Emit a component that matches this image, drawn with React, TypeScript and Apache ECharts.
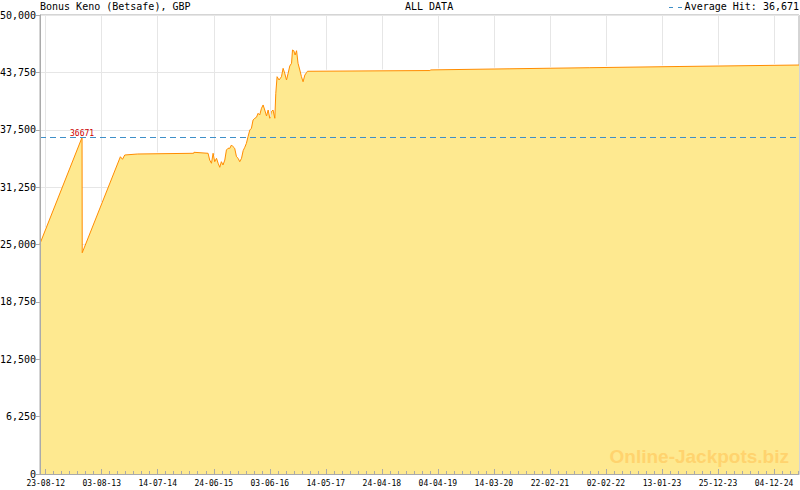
import React, { useEffect, useRef } from "react";
import * as echarts from "echarts";

const MONO = '"DejaVu Sans Mono", monospace';

// x positions are days counted from 23-08-12
const tickLabels = [
  "23-08-12", "03-08-13", "14-07-14", "24-06-15", "03-06-16", "14-05-17", "24-04-18",
  "04-04-19", "14-03-20", "22-02-21", "02-02-22", "13-01-23", "25-12-23", "04-12-24",
];
const TICK_STEP_DAYS = 345;
const MINOR_PER_MAJOR = 7;

const dayOffsets = [
  -35, 224, 225, 460, 473, 487, 567, 912, 913, 1000, 1010, 1021, 1031, 1041, 1052, 1062,
  1072, 1082, 1092, 1103, 1113, 1123, 1134, 1144, 1154, 1164, 1175, 1185, 1195, 1206, 1216,
  1226, 1236, 1246, 1257, 1267, 1277, 1288, 1298, 1308, 1318, 1329, 1339, 1349, 1360, 1370,
  1380, 1390, 1400, 1411, 1417, 1425, 1437, 1452, 1462, 1472, 1483, 1493, 1503, 1514, 1520,
  1528, 1536, 1545, 1554, 1565, 1575, 1585, 1596, 1606, 1612, 2366, 2372, 2859, 3351, 3906,
  4639,
];
const jackpotValues = [
  25100, 36671, 24100, 34560, 34280, 34750, 34860, 34935, 35045, 34935, 34200, 33850, 34935,
  34020, 34390, 33850, 33410, 34020, 33660, 34200, 35290, 35480, 35480, 35840, 35650, 35480,
  34560, 34390, 34020, 34390, 35220, 35590, 36020, 36740, 37470, 37660, 38560, 38750, 38860,
  39290, 39110, 39840, 40200, 39650, 39000, 39650, 38750, 39480, 39650, 38750, 41470, 43280,
  42920, 43280, 44190, 43650, 42920, 43650, 44440, 44740, 46190, 46110, 45640, 46110, 44740,
  44010, 43280, 42730, 43460, 43710, 43870, 43950, 44020, 44140, 44260, 44390, 44550,
];

const AVERAGE_HIT = 36671;
const HIT_DAY = 224;
const Y_MAX = 50000;
const Y_STEP = 6250;

const TITLE_LEFT = "Bonus Keno (Betsafe), GBP";
const TITLE_CENTER = "ALL DATA";
const LEGEND_TEXT = "Average Hit: 36,671";
const WATERMARK = "Online-Jackpots.biz";

// value of the jackpot line at a given day (grid lines stop at the area's top)
function valueAt(day: number): number {
  if (day <= dayOffsets[0]) return jackpotValues[0];
  for (let i = 0; i < dayOffsets.length - 1; i++) {
    const d0 = dayOffsets[i];
    const d1 = dayOffsets[i + 1];
    if (day >= d0 && day <= d1) {
      const t = d1 === d0 ? 0 : (day - d0) / (d1 - d0);
      return jackpotValues[i] + t * (jackpotValues[i + 1] - jackpotValues[i]);
    }
  }
  return jackpotValues[jackpotValues.length - 1];
}

export default function App() {
  const ref = useRef<HTMLDivElement>(null);

  useEffect(() => {
    if (!ref.current) return;
    const chart = echarts.init(ref.current, undefined, { renderer: "svg" });

    const xMin = dayOffsets[0];
    const xMax = dayOffsets[dayOffsets.length - 1];
    const majorTicks = tickLabels.map((_, i) => i * TICK_STEP_DAYS);
    const minorTicks: number[] = [];
    const minorStep = TICK_STEP_DAYS / MINOR_PER_MAJOR;
    for (let k = 0; k * minorStep <= xMax; k++) minorTicks.push(k * minorStep);
    const seriesData = dayOffsets.map((d, i) => [d, jackpotValues[i]]);

    const gridLine = "#e6e6e6";
    const axisGray = "#aaaaaa";

    const gridSegments = majorTicks.map((v) => [
      { coord: [v, valueAt(v) + Y_MAX * 0.003], lineStyle: { color: gridLine, type: "solid", width: 1 } },
      { coord: [v, Y_MAX] },
    ]);

    const option: any = {
      animation: false,
      backgroundColor: "#ffffff",
      textStyle: { fontFamily: MONO },
      grid: {
        left: 40,
        top: 15,
        width: 759,
        height: 459,
        show: true,
        borderColor: axisGray,
        borderWidth: 1,
        backgroundColor: "transparent",
        containLabel: false,
        outerBoundsMode: "none",
      },
      xAxis: [
        {
          type: "value",
          min: xMin,
          max: xMax,
          position: "bottom",
          z: 5,
          axisLine: { show: true, onZero: false, lineStyle: { color: axisGray, width: 1 } },
          axisTick: {
            show: true,
            inside: true,
            length: 5,
            customValues: majorTicks,
            lineStyle: { color: axisGray },
          },
          axisLabel: {
            show: true,
            customValues: majorTicks,
            formatter: (v: number) => tickLabels[Math.round(v / TICK_STEP_DAYS)] ?? "",
            fontFamily: MONO,
            fontSize: 8,
            lineHeight: 8,
            color: "#000",
            margin: 5,
          },
          splitLine: { show: false },
        },
        {
          type: "value",
          min: xMin,
          max: xMax,
          position: "bottom",
          z: 5,
          axisLine: { show: false, onZero: false },
          axisTick: {
            show: true,
            inside: true,
            length: 3,
            customValues: minorTicks,
            lineStyle: { color: axisGray },
          },
          axisLabel: { show: false },
          splitLine: { show: false },
        },
      ],
      yAxis: [
        {
          type: "value",
          min: 0,
          max: Y_MAX,
          interval: Y_STEP,
          position: "left",
          z: 0,
          axisLine: { show: false, onZero: false },
          axisTick: { show: false },
          axisLabel: { show: false },
          splitLine: { show: true, lineStyle: { color: gridLine, width: 1 } },
        },
        {
          type: "value",
          min: 0,
          max: Y_MAX,
          interval: Y_STEP,
          position: "left",
          z: 5,
          axisLine: { show: true, onZero: false, lineStyle: { color: axisGray, width: 1 } },
          axisTick: { show: true, inside: false, length: 4, lineStyle: { color: axisGray } },
          axisLabel: {
            show: true,
            fontFamily: MONO,
            fontSize: 10,
            lineHeight: 8,
            color: "#000",
            margin: 4,
            formatter: (v: number) => v.toLocaleString("en-US"),
          },
          splitLine: { show: false },
        },
      ],
      series: [
        {
          type: "line",
          xAxisIndex: 0,
          yAxisIndex: 0,
          data: seriesData,
          showSymbol: false,
          symbol: "none",
          lineStyle: { color: "#ff8c00", width: 1 },
          areaStyle: { color: "#fee990", opacity: 1 },
          z: 3,
          markLine: {
            silent: true,
            symbol: ["none", "none"],
            label: { show: false },
            lineStyle: { color: gridLine, type: "solid", width: 1 },
            data: [
              ...gridSegments,
              { yAxis: AVERAGE_HIT, lineStyle: { color: "#3f8fc8", type: [6, 4], width: 1 } },
            ],
          },
          markPoint: {
            symbol: "circle",
            symbolSize: 0,
            itemStyle: { color: "transparent" },
            label: {
              show: true,
              position: "inside",
              offset: [0, -4],
              formatter: String(AVERAGE_HIT),
              color: "#cc0000",
              fontFamily: MONO,
              fontSize: 8,
            },
            data: [{ coord: [HIT_DAY, AVERAGE_HIT], value: AVERAGE_HIT }],
          },
        },
      ],
      graphic: [
        {
          type: "text",
          left: 40,
          top: 1,
          z: 10,
          style: { text: TITLE_LEFT, font: `10px ${MONO}`, fill: "#000" },
        },
        {
          type: "text",
          left: 405,
          top: 1,
          z: 10,
          style: { text: TITLE_CENTER, font: `10px ${MONO}`, fill: "#000" },
        },
        {
          type: "line",
          z: 10,
          shape: { x1: 669, y1: 7.5, x2: 683, y2: 7.5 },
          style: { stroke: "#3f8fc8", lineWidth: 1, lineDash: [4, 5] },
        },
        {
          type: "text",
          right: 1,
          top: 1,
          z: 10,
          style: { text: LEGEND_TEXT, font: `10px ${MONO}`, fill: "#000" },
        },
        {
          type: "text",
          right: 11,
          top: 447,
          z: 10,
          style: {
            text: WATERMARK,
            font: 'bold 19px "Liberation Sans", Arial, sans-serif',
            fill: "#ffd36e",
          },
        },
      ],
    };

    chart.setOption(option);
    return () => chart.dispose();
  }, []);

  return (
    <div
      ref={ref}
      style={{ position: "fixed", left: 0, top: 0, width: 800, height: 490 }}
    />
  );
}
